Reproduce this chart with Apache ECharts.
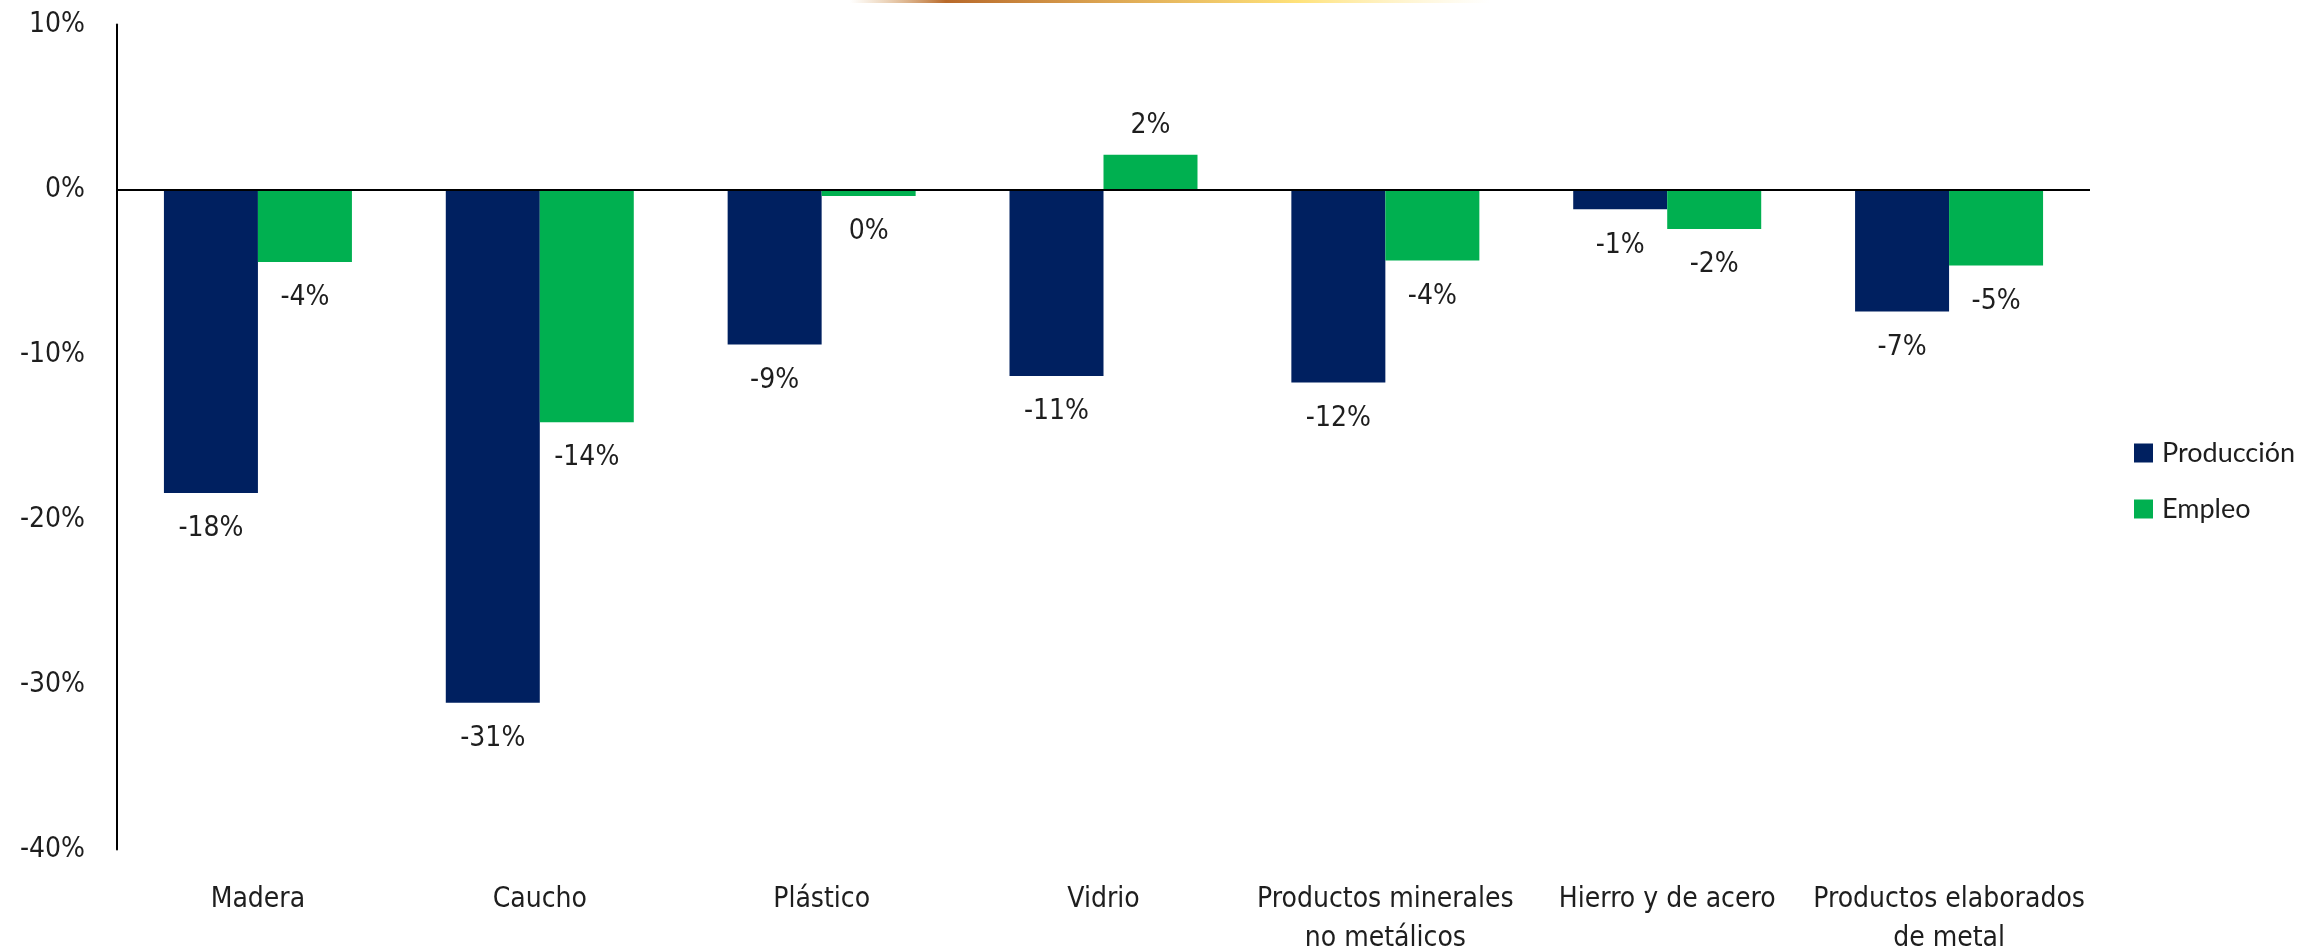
<!DOCTYPE html>
<html>
<head>
<meta charset="utf-8">
<title>Producción y empleo por rama</title>
<script src="https://cdn.jsdelivr.net/npm/echarts@6/dist/echarts.min.js"></script>
<style>
  html, body { margin: 0; padding: 0; background: #ffffff; }
  #chart { width: 2323px; height: 950px; }
</style>
</head>
<body>
<div id="chart"></div>
<script>
// Variación por rama industrial (%)
const categories = [
  'Madera',
  'Caucho',
  'Plástico',
  'Vidrio',
  'Productos minerales\nno metálicos',
  'Hierro y de acero',
  'Productos elaborados\nde metal'
];
const produccion = [-18.4, -31.1, -9.4, -11.3, -11.7, -1.2, -7.4];
const empleo = [-4.4, -14.1, -0.4, 2.1, -4.3, -2.4, -4.6];
const seriesNames = ['Producción', 'Empleo'];
const yMin = -40, yMax = 10, yStep = 10;

const FONT = "'Liberation Sans Narrow', 'DejaVu Sans Condensed', sans-serif";
const TEXT = '#1e1e1e';

function pct(v) {
  return Math.round(v) + '%';
}

// Labels sit beyond the end of each bar: below for falls, above for rises
function withLabels(values) {
  return values.map(v => ({
    value: v,
    label: v < 0 ? { position: 'bottom', distance: 21 } : { position: 'top', distance: 14 }
  }));
}

const barLabel = {
  show: true,
  formatter: p => pct(p.value),
  fontFamily: FONT,
  fontSize: 28,
  lineHeight: 30,
  color: TEXT
};

const chart = echarts.init(document.getElementById('chart'), null, { renderer: 'canvas' });

chart.setOption({
  animation: false,
  backgroundColor: '#ffffff',
  graphic: [{
    type: 'rect',
    left: 850,
    top: 0,
    shape: { width: 640, height: 3 },
    silent: true,
    style: {
      fill: new echarts.graphic.LinearGradient(0, 0, 1, 0, [
        { offset: 0, color: 'rgba(214,160,90,0)' },
        { offset: 0.15, color: '#b8692a' },
        { offset: 0.4, color: '#dca552' },
        { offset: 0.7, color: '#ffe27a' },
        { offset: 1, color: 'rgba(255,236,170,0)' }
      ])
    }
  }],
  grid: {
    left: 117,
    right: 233,
    top: 24.5,
    bottom: 100.5,
    containLabel: false,
    outerBoundsMode: 'none'
  },
  legend: {
    orient: 'vertical',
    left: 2134,
    top: 439,
    padding: 0,
    icon: 'rect',
    itemWidth: 19,
    itemHeight: 19,
    itemGap: 28,
    textStyle: {
      fontFamily: "Lato, 'Liberation Sans', sans-serif",
      fontSize: 27,
      lineHeight: 28,
      color: TEXT,
      padding: [0, 0, 0, 4]
    },
    data: seriesNames
  },
  xAxis: {
    type: 'category',
    data: categories,
    axisLine: { show: false, onZero: false },
    axisTick: { show: false },
    axisLabel: {
      interval: 0,
      margin: 31,
      fontFamily: FONT,
      fontSize: 28,
      lineHeight: 39,
      color: TEXT
    },
    splitLine: { show: false }
  },
  yAxis: {
    type: 'value',
    min: yMin,
    max: yMax,
    interval: yStep,
    axisLine: { show: true, lineStyle: { color: '#000000', width: 2 } },
    axisTick: { show: false },
    splitLine: { show: false },
    axisLabel: {
      margin: 32,
      formatter: v => v + '%',
      fontFamily: FONT,
      fontSize: 28,
      color: TEXT
    }
  },
  series: [
    {
      name: seriesNames[0],
      type: 'bar',
      data: withLabels(produccion),
      barGap: '0%',
      barCategoryGap: '33.3%',
      itemStyle: { color: '#002060' },
      label: barLabel,
      markLine: {
        silent: true,
        symbol: ['none', 'none'],
        label: { show: false },
        lineStyle: { color: '#000000', width: 2, type: 'solid' },
        data: [{ yAxis: 0 }]
      },
      z: 2
    },
    {
      name: seriesNames[1],
      type: 'bar',
      data: withLabels(empleo),
      barGap: '0%',
      barCategoryGap: '33.3%',
      itemStyle: { color: '#00b050' },
      label: barLabel,
      z: 2
    }
  ]
});
</script>
</body>
</html>
